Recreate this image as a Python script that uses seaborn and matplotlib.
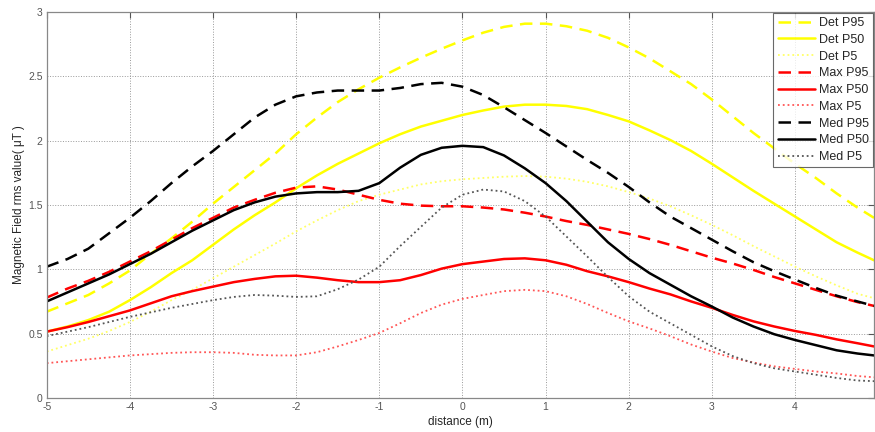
import numpy as np
import pandas as pd
import matplotlib
matplotlib.use("Agg")
import matplotlib.pyplot as plt
import seaborn as sns

distance = [-5, -4.75, -4.5, -4.25, -4, -3.75, -3.5, -3.25, -3, -2.75,
            -2.5, -2.25, -2, -1.75, -1.5, -1.25, -1, -0.75, -0.5, -0.25,
            0, 0.25, 0.5, 0.75, 1, 1.25, 1.5, 1.75, 2, 2.25,
            2.5, 2.75, 3, 3.25, 3.5, 3.75, 4, 4.25, 4.5, 4.75, 4.95]

det_p95 = [0.67, 0.735, 0.80, 0.89, 0.99, 1.12, 1.24, 1.37, 1.51, 1.64,
           1.77, 1.90, 2.05, 2.18, 2.30, 2.40, 2.49, 2.57, 2.645, 2.715,
           2.78, 2.84, 2.885, 2.91, 2.91, 2.89, 2.855, 2.80, 2.725, 2.64,
           2.54, 2.44, 2.32, 2.19, 2.06, 1.94, 1.82, 1.71, 1.59, 1.48, 1.40]
det_p50 = [0.515, 0.555, 0.605, 0.67, 0.76, 0.86, 0.97, 1.07, 1.19, 1.31,
           1.42, 1.52, 1.63, 1.73, 1.82, 1.90, 1.98, 2.05, 2.11, 2.155,
           2.20, 2.235, 2.265, 2.28, 2.28, 2.27, 2.245, 2.20, 2.15, 2.08,
           2.005, 1.92, 1.82, 1.715, 1.61, 1.51, 1.41, 1.31, 1.21, 1.13, 1.07]
det_p5 = [0.36, 0.41, 0.46, 0.52, 0.59, 0.67, 0.76, 0.84, 0.93, 1.02,
          1.11, 1.20, 1.295, 1.38, 1.46, 1.53, 1.58, 1.62, 1.66, 1.685,
          1.70, 1.71, 1.72, 1.725, 1.72, 1.705, 1.68, 1.645, 1.60, 1.55,
          1.49, 1.42, 1.345, 1.265, 1.18, 1.10, 1.02, 0.945, 0.875, 0.81, 0.775]
max_p95 = [0.78, 0.85, 0.91, 0.98, 1.06, 1.14, 1.23, 1.32, 1.40, 1.48,
           1.54, 1.595, 1.635, 1.645, 1.62, 1.58, 1.54, 1.51, 1.495, 1.49,
           1.49, 1.48, 1.465, 1.44, 1.41, 1.375, 1.345, 1.31, 1.275, 1.235,
           1.19, 1.14, 1.09, 1.045, 0.995, 0.94, 0.89, 0.84, 0.79, 0.745, 0.715]
max_p50 = [0.515, 0.55, 0.59, 0.635, 0.68, 0.735, 0.79, 0.83, 0.865, 0.90,
           0.925, 0.945, 0.95, 0.935, 0.915, 0.90, 0.90, 0.915, 0.955, 1.005,
           1.04, 1.06, 1.08, 1.085, 1.07, 1.035, 0.985, 0.945, 0.90, 0.85,
           0.805, 0.75, 0.70, 0.645, 0.595, 0.555, 0.52, 0.49, 0.455, 0.425, 0.40]
max_p5 = [0.27, 0.285, 0.30, 0.315, 0.33, 0.34, 0.35, 0.355, 0.355, 0.35,
          0.335, 0.33, 0.33, 0.355, 0.40, 0.45, 0.505, 0.58, 0.66, 0.725,
          0.77, 0.80, 0.83, 0.84, 0.83, 0.79, 0.73, 0.66, 0.595, 0.54,
          0.48, 0.415, 0.36, 0.31, 0.275, 0.245, 0.225, 0.205, 0.19, 0.17, 0.16]
med_p95 = [1.02, 1.08, 1.16, 1.28, 1.40, 1.53, 1.67, 1.80, 1.92, 2.05,
           2.18, 2.28, 2.345, 2.375, 2.39, 2.39, 2.39, 2.41, 2.44, 2.45,
           2.42, 2.355, 2.26, 2.16, 2.06, 1.955, 1.85, 1.75, 1.64, 1.52,
           1.41, 1.32, 1.23, 1.14, 1.055, 0.985, 0.92, 0.855, 0.795, 0.75, 0.715]
med_p50 = [0.75, 0.82, 0.89, 0.96, 1.04, 1.12, 1.21, 1.30, 1.38, 1.46,
           1.52, 1.565, 1.59, 1.60, 1.60, 1.61, 1.67, 1.79, 1.89, 1.945,
           1.96, 1.95, 1.885, 1.785, 1.67, 1.53, 1.37, 1.21, 1.08, 0.97,
           0.88, 0.79, 0.71, 0.625, 0.555, 0.495, 0.45, 0.41, 0.37, 0.345, 0.33]
med_p5 = [0.48, 0.515, 0.55, 0.59, 0.63, 0.665, 0.70, 0.73, 0.76, 0.785,
          0.80, 0.795, 0.785, 0.79, 0.845, 0.92, 1.02, 1.18, 1.33, 1.48,
          1.58, 1.62, 1.605, 1.53, 1.41, 1.255, 1.10, 0.94, 0.79, 0.67,
          0.58, 0.49, 0.40, 0.325, 0.27, 0.23, 0.205, 0.18, 0.155, 0.135, 0.13]

series_names = ["Det P95", "Det P50", "Det P5", "Max P95", "Max P50", "Max P5",
                "Med P95", "Med P50", "Med P5"]
series_values = [det_p95, det_p50, det_p5, max_p95, max_p50, max_p5,
                 med_p95, med_p50, med_p5]

styles = {
    "Det P95": dict(color="#ffff00", ls=(0, (5, 3)), lw=1.8),
    "Det P50": dict(color="#ffff00", ls="-", lw=1.8),
    "Det P5": dict(color="#ffff66", ls=":", lw=1.3),
    "Max P95": dict(color="#ff0000", ls=(0, (5, 3)), lw=1.8),
    "Max P50": dict(color="#ff0000", ls="-", lw=1.8),
    "Max P5": dict(color="#ff5555", ls=":", lw=1.3),
    "Med P95": dict(color="#000000", ls=(0, (5, 3)), lw=1.8),
    "Med P50": dict(color="#000000", ls="-", lw=1.8),
    "Med P5": dict(color="#555555", ls=":", lw=1.3),
}

sns.set_style("white")
plt.rcParams["font.family"] = ["Liberation Sans", "DejaVu Sans"]
plt.rcParams["axes.unicode_minus"] = False

fig = plt.figure(figsize=(8.75, 4.32), dpi=100)
ax = fig.add_axes([0.0534, 0.079, 0.9455, 0.893])

for name, vals in zip(series_names, series_values):
    df = pd.DataFrame({"distance": distance, "value": vals})
    st = styles[name]
    sns.lineplot(data=df, x="distance", y="value", ax=ax, color=st["color"],
                 linestyle=st["ls"], linewidth=st["lw"], label=name)

ax.set_xlim(-5, 4.95)
ax.set_ylim(0, 3)
ax.set_xticks(range(-5, 5))
ax.set_yticks([0, 0.5, 1, 1.5, 2, 2.5, 3])
ax.set_yticklabels(["0", "0.5", "1", "1.5", "2", "2.5", "3"])
ax.grid(True, ls=":", color="#999999", lw=0.7)
ax.tick_params(direction="in", top=True, right=True, length=4, width=0.8,
               labelsize=7.5, labelcolor="#555555", color="#555555", pad=3)
for sp in ax.spines.values():
    sp.set_color("#888888")
    sp.set_linewidth(0.9)
ax.set_xlabel("distance (m)", fontsize=8.5, labelpad=3)
ax.set_ylabel("Magnetic Field rms value( \u03bcT )", fontsize=8.5, labelpad=2)

leg = ax.legend(loc="upper right", fontsize=9, frameon=True, fancybox=False,
                edgecolor="#444444", handlelength=3.0, handletextpad=0.3,
                labelspacing=0.38, borderpad=0.35, borderaxespad=0.05)
leg.get_frame().set_linewidth(0.8)

fig.savefig("out.png", dpi=100)
